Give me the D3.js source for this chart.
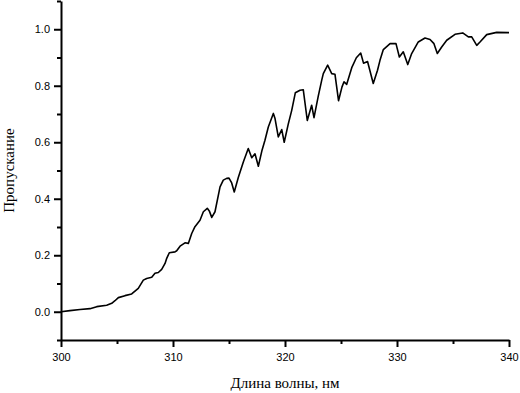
<!DOCTYPE html>
<html>
<head>
<meta charset="utf-8">
<script src="https://cdn.jsdelivr.net/npm/d3@7"></script>
<style>
  body { margin: 0; background: #fff; }
  .axis path, .axis line { stroke: #000; stroke-width: 2; }
  .axis text { font-family: "Liberation Sans", Arial, sans-serif; font-size: 11px; fill: #000; }
  .title { font-family: "Liberation Serif", "Times New Roman", serif; font-size: 15px; fill: #000; }
</style>
</head>
<body>
<svg id="chart" width="520" height="393"></svg>
<script>
// wavelength, nm
var wavelength = [300.0, 300.8, 301.7, 302.59, 303.19, 304.08, 304.53, 304.82, 305.12, 305.71,
  306.31, 306.9, 307.35, 307.65, 308.1, 308.39, 308.69, 308.99, 309.29, 309.44,
  309.67, 310.18, 310.33, 310.63, 311.07, 311.37, 311.67, 311.96, 312.41, 312.71,
  313.06, 313.24, 313.46, 313.75, 314.2, 314.49, 314.79, 315.0, 315.24, 315.47,
  315.83, 316.28, 316.72, 317.03, 317.32, 317.62, 317.95, 318.21, 318.51, 318.96,
  319.11, 319.4, 319.71, 319.93, 320.29, 320.6, 320.92, 321.34, 321.63, 321.99,
  322.38, 322.59, 322.97, 323.28, 323.42, 323.81, 324.17, 324.46, 324.78, 325.09,
  325.27, 325.51, 325.96, 326.37, 326.76, 327.01, 327.37, 327.88, 328.26, 328.48,
  328.78, 329.38, 329.91, 330.21, 330.56, 330.96, 331.31, 331.9, 332.5, 332.95,
  333.3, 333.6, 333.99, 334.44, 335.18, 335.87, 336.37, 336.67, 337.12, 337.41,
  338.01, 338.9, 339.94, 340.0];

// transmission
var transmission = [0.000, 0.004, 0.008, 0.011, 0.018, 0.023, 0.030, 0.039, 0.050, 0.057,
  0.063, 0.083, 0.112, 0.118, 0.122, 0.136, 0.139, 0.150, 0.171, 0.189,
  0.209, 0.212, 0.216, 0.232, 0.244, 0.242, 0.277, 0.301, 0.324, 0.354,
  0.366, 0.357, 0.334, 0.354, 0.442, 0.466, 0.472, 0.473, 0.456, 0.424,
  0.475, 0.530, 0.578, 0.545, 0.559, 0.515, 0.572, 0.607, 0.654, 0.702,
  0.684, 0.619, 0.645, 0.600, 0.664, 0.713, 0.775, 0.784, 0.786, 0.677,
  0.731, 0.687, 0.763, 0.820, 0.843, 0.873, 0.843, 0.841, 0.747, 0.796,
  0.814, 0.805, 0.864, 0.899, 0.916, 0.880, 0.886, 0.808, 0.855, 0.890,
  0.928, 0.949, 0.949, 0.902, 0.920, 0.875, 0.914, 0.955, 0.969, 0.964,
  0.949, 0.914, 0.937, 0.961, 0.982, 0.987, 0.973, 0.973, 0.943, 0.955,
  0.981, 0.989, 0.988, 0.988];

var xMajor = [300, 310, 320, 330, 340];
var xMinor = [305, 315, 325, 335];
var yMajor = [0.0, 0.2, 0.4, 0.6, 0.8, 1.0];
var yMinor = [-0.1, 0.1, 0.3, 0.5, 0.7, 0.9, 1.1];

var svg = d3.select('#chart');

var plotLeft = 61, plotRight = 509, plotTop = 1, plotBottom = 340;

var x = d3.scaleLinear().domain([300, 340]).range([plotLeft, plotRight]);
var y = d3.scaleLinear().domain([-0.1, 1.1]).range([plotBottom, plotTop]);

// x axis
svg.append('g')
  .attr('class', 'axis')
  .attr('transform', 'translate(0,' + plotBottom + ')')
  .call(d3.axisBottom(x).tickValues(xMajor).tickSize(7).tickSizeOuter(0).tickPadding(6).tickFormat(d3.format('d')));
svg.append('g')
  .attr('class', 'axis')
  .attr('transform', 'translate(0,' + plotBottom + ')')
  .call(d3.axisBottom(x).tickValues(xMinor).tickSize(4).tickSizeOuter(0).tickFormat(''))
  .select('.domain').remove();

// y axis
svg.append('g')
  .attr('class', 'axis')
  .attr('transform', 'translate(' + plotLeft + ',0)')
  .call(d3.axisLeft(y).tickValues(yMajor).tickSize(7).tickSizeOuter(0).tickPadding(4).tickFormat(d3.format('.1f')));
svg.append('g')
  .attr('class', 'axis')
  .attr('transform', 'translate(' + plotLeft + ',0)')
  .call(d3.axisLeft(y).tickValues(yMinor).tickSize(4).tickSizeOuter(0).tickFormat(''))
  .select('.domain').remove();

// curve
var pts = wavelength.map(function(w, i) { return [w, transmission[i]]; });
var line = d3.line()
  .x(function(d) { return x(d[0]); })
  .y(function(d) { return y(d[1]); });

svg.append('path')
  .datum(pts)
  .attr('d', line)
  .attr('fill', 'none')
  .attr('stroke', '#000')
  .attr('stroke-width', 1.6)
  .attr('stroke-linejoin', 'round');

// titles
svg.append('text')
  .attr('class', 'title')
  .attr('x', (plotLeft + plotRight) / 2)
  .attr('y', 388)
  .attr('text-anchor', 'middle')
  .text('Длина волны, нм');

svg.append('text')
  .attr('class', 'title')
  .attr('transform', 'translate(14,' + ((plotTop + plotBottom) / 2) + ') rotate(-90)')
  .attr('text-anchor', 'middle')
  .text('Пропускание');
</script>
</body>
</html>
